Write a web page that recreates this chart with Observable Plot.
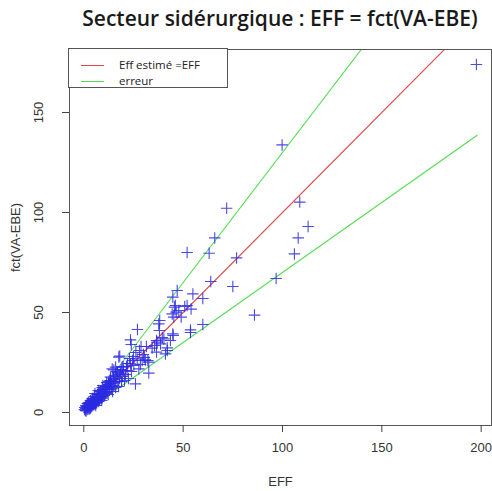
<!DOCTYPE html>
<html>
<head>
<meta charset="utf-8">
<script src="https://cdn.jsdelivr.net/npm/d3@7"></script>
<script src="https://cdn.jsdelivr.net/npm/@observablehq/plot@0.6"></script>
<style>
  body { margin: 0; background: #fff; }
  #wrap { position: relative; width: 492px; height: 491px; }
  #title { position: absolute; left: 69px; width: 422px; top: 4px; text-align: center;
           font-family: "Open Sans"; font-weight: 600; font-size: 21px; color: #1a1a1a; white-space: nowrap; }
  #legend { position: absolute; left: 68px; top: 48px; width: 158px; height: 38px;
            border: 1px solid #555; background: #fff; font-family: "Open Sans"; font-size: 11.5px; color: #222; }
  .sw { position: absolute; left: 12px; width: 23px; height: 1px; }
  .lt { position: absolute; left: 50px; line-height: 14px; white-space: nowrap; }
</style>
</head>
<body>
<div id="wrap">
  <div id="chart"></div>
  <div id="title"></div>
  <div id="legend"></div>
</div>
<script>
const titleText = "Secteur sidérurgique : EFF = fct(VA-EBE)";
const xLabel = "EFF";
const yLabel = "fct(VA-EBE)";
const xTicks = [0, 50, 100, 150, 200];
const yTicks = [0, 50, 100, 150];
const legendLabels = ["Eff estimé =EFF", "erreur"];

// observed points: EFF (x) and fct(VA-EBE) (y)
const effX = [
  0.3,0.5,0.8,1,1,1.2,1.5,1.5,1.8,2,2,2,2.3,2.5,2.5,2.8,3,3,3,3.3,3.5,3.5,4,4,4,4.3,4.5,4.8,5,5,5.3,5.5,5.8,6,6,6.3,6.5,6.8,7,7,7.3,7.5,7.8,8,8,8.3,8.5,8.8,9,9,9.3,9.5,9.8,10,
  1.2,2.2,3.2,4.2,5.2,6.2,7.2,8.2,9.2,3.8,5.6,7.6,9.6,
  10.3,10.5,10.8,11,11,11.5,11.8,12,12.3,12.5,13,13,13.4,13.5,14,14,14.3,14.5,15,15,15.1,15.5,16,16,16.3,16.8,17,17.6,17.5,18,18.1,18.5,19,19.3,19.5,20,20.5,
  10.6,11.4,12.6,13.8,14.8,15.8,16.6,17.8,18.8,19.8,11.2,13.2,
  21,21.8,22,22.5,23.5,23.5,23.9,24,25.2,25,26,26.9,27,27.7,28,28.5,29.4,30,31,31.5,32.2,32.7,32.7,
  21.5,23,24.5,26.2,28.8,30.5,
  34.4,35.6,36.6,36.6,36.9,37.7,38.1,38.2,38.6,39.5,40.3,41.1,42,42,43.6,44.5,44.8,44.8,45,45.3,45.6,46.1,46.5,47,47.8,49,50.8,52,53.7,53.7,54,54.9,59.9,59.9,
  52,63.1,63.9,65.9,71.9,75,76.9,85.9,96.8,99.8,106,107.9,108.7,112.9,197.6
];
const fctY = [
  1.5,2.5,1,2,3.5,0.8,2,3,4.5,1.5,2.5,3.5,5,2,3,4,1.8,3,4.5,6,2.5,3.8,3,4.5,5.5,7,3.5,5,4,6,8,4.5,5.5,3.5,6.5,7.5,5,9,6,7.5,11,5.5,8,6.5,9.5,7.5,10.5,8.5,6,9,12.5,8,10,11.5,
  2.8,4.2,2.2,6.2,7,4.8,9.2,10.8,7.2,5.2,9.5,6.8,13.5,
  8.5,10,13,9.5,11.5,15,10.5,12.5,9,14,11.5,13,17.7,16,12,14.5,21.8,10.5,13.5,16.5,21.3,15,22.7,12.5,18,15.5,20,27.7,13,17,28.2,19.5,15.5,22.7,18,21,16,
  12,12.8,15.5,13,17,18.5,20.5,19,21.5,23,10,16,
  19,21,24.5,17,24.3,36.3,34,20.5,23.5,28,14.3,26.8,41.5,21.8,31,24,26,29,26.3,33,26,19.7,25.2,
  23,27,26,30,33,27.5,
  32.2,33.5,36,30.2,35.2,44.3,41,46,34.3,37.5,36.8,29.3,32.3,31,36,49.3,39.3,57.7,38.5,47.7,52.7,53.5,50.2,61,51,47.7,53,53.5,40,41.3,51.7,59.3,44,57,
  80,79.6,65.5,87.3,102.1,63,77.3,48.7,67,133.8,79.3,87.3,105.2,93,174
];
const points = effX.map((x, i) => ({x, y: fctY[i]}));

// reference lines: y = x (red) and y = x ± 30 % (green)
const lineX = [0, 198];
const slopeFit = 1, slopeHigh = 1.3, slopeLow = 0.7;
const mk = s => lineX.map(x => ({x, y: s * x}));

const plot = Plot.plot({
  width: 492, height: 491,
  marginLeft: 69, marginRight: 1, marginTop: 49, marginBottom: 66,
  x: {domain: [-7.2, 205.2]},
  y: {domain: [-6.5, 181.5]},
  style: {fontFamily: "Liberation Sans", fontSize: "13px", color: "#333", background: "#fff"},
  marks: [
    Plot.line(mk(slopeHigh), {x: "x", y: "y", stroke: "#55dd55", strokeWidth: 1.1, clip: true}),
    Plot.line(mk(slopeLow), {x: "x", y: "y", stroke: "#55dd55", strokeWidth: 1.1, clip: true}),
    Plot.line(mk(slopeFit), {x: "x", y: "y", stroke: "#e04848", strokeWidth: 1.1, clip: true}),
    Plot.dot(points, {x: "x", y: "y", symbol: "plus", r: 3.8, stroke: "#2a2ae0", strokeWidth: 1.1, strokeOpacity: 0.85}),
    Plot.frame({stroke: "#555"}),
    Plot.axisX({ticks: xTicks, tickSize: 7, tickPadding: 10, label: null, stroke: "#444"}),
    Plot.axisY({ticks: yTicks, tickSize: 7, tickFormat: () => "", label: null, stroke: "#444"}),
    Plot.text(yTicks, {y: d => d, text: d => String(d), frameAnchor: "left", dx: -31, rotate: -90, textAnchor: "middle", lineAnchor: "middle", fill: "#333"}),
    Plot.text([yLabel], {frameAnchor: "left", dx: -54, rotate: -90, textAnchor: "middle", lineAnchor: "middle", fill: "#333"}),
    Plot.text([xLabel], {frameAnchor: "bottom", dy: 56, textAnchor: "middle", lineAnchor: "middle", fill: "#333"})
  ]
});
document.getElementById("chart").appendChild(plot);
document.getElementById("title").textContent = titleText;

const leg = document.getElementById("legend");
const legColors = ["#e04848", "#55dd55"];
const legTops = [16, 32];
legendLabels.forEach((t, i) => {
  const sw = document.createElement("div");
  sw.className = "sw"; sw.style.top = legTops[i] + "px"; sw.style.background = legColors[i];
  leg.appendChild(sw);
  const lt = document.createElement("div");
  lt.className = "lt"; lt.style.top = (legTops[i] - 7) + "px"; lt.textContent = t;
  leg.appendChild(lt);
});
</script>
</body>
</html>
